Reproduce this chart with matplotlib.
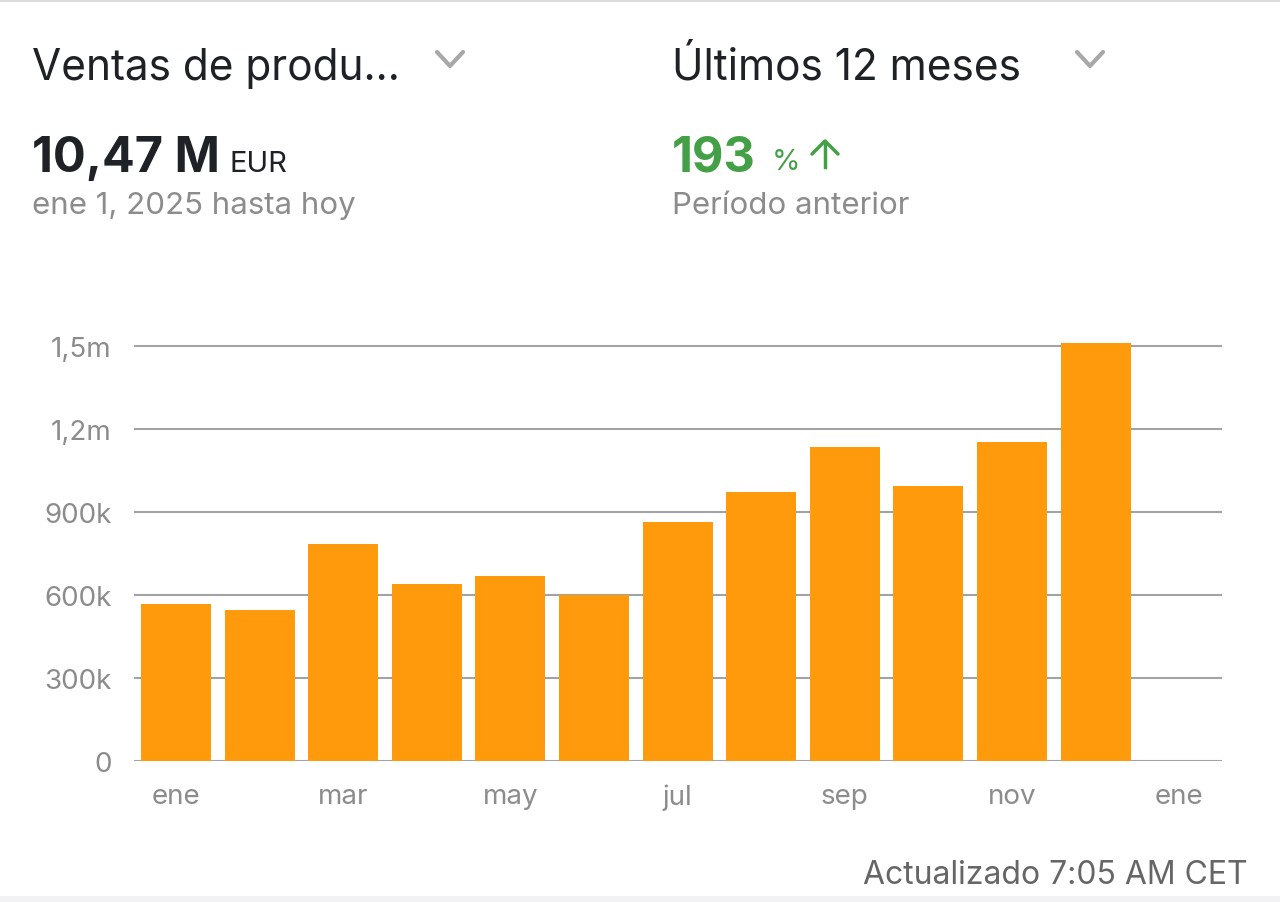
import numpy as np
import matplotlib
matplotlib.use('Agg')
from matplotlib import pyplot as plt
from matplotlib.lines import Line2D
from matplotlib.patches import Rectangle

# ---------- data ----------
months = ['ene', 'feb', 'mar', 'abr', 'may', 'jun', 'jul', 'ago', 'sep', 'oct', 'nov', 'dic']
sales = [567e3, 546e3, 784e3, 640e3, 669e3, 600e3, 864e3, 972e3, 1135e3, 994e3, 1153e3, 1511e3]
xtick_labels = ['ene', 'mar', 'may', 'jul', 'sep', 'nov', 'ene']
yticks = [0, 300e3, 600e3, 900e3, 1200e3, 1500e3]
ytick_labels = ['0', '300k', '600k', '900k', '1,2m', '1,5m']

# ---------- style ----------
plt.rcParams['font.family'] = ['Inter', 'DejaVu Sans']
W, H = 1280, 903
orange = '#ff9a0c'
dark = '#1e2226'
gray = '#8c8c8c'
green = '#43a047'
grid_c = '#a3a3a3'

fig = plt.figure(figsize=(W / 100, H / 100), dpi=100)
fig.patch.set_facecolor('white')

def px(x, y):
    return x / W, 1 - y / H

def txt(x, y, s, **kw):
    fx, fy = px(x, y)
    fig.text(fx, fy, s, va='baseline', **kw)

# top border and bottom band
fig.add_artist(Line2D([0, 1], [1 - 2 / H] * 2, color='#dcdcdc', lw=1.5))
fig.add_artist(Rectangle((0, 0), 1, 6 / H, color='#f2f2f4', lw=0))

# header
txt(32, 80, 'Ventas de produ...', fontsize=30.5, color=dark)
txt(672, 80, 'Últimos 12 meses', fontsize=30.5, color=dark)
for cx in (450, 1090):
    xs = [cx - 13, cx, cx + 13]
    ys = [53, 67, 53]
    fig.add_artist(Line2D([x / W for x in xs], [1 - y / H for y in ys],
                          color='#a8a8a8', lw=3, solid_capstyle='round'))

txt(32, 172, '10,47 M', fontsize=35, color=dark, fontweight='bold')
txt(230, 172, 'EUR', fontsize=21, color=dark)
txt(32, 214, 'ene 1, 2025 hasta hoy', fontsize=22.5, color=gray)

txt(672, 172, '193', fontsize=35, color=green, fontweight='bold')
txt(772, 170, '%', fontsize=21, color=green)
fig.add_artist(Line2D([825 / W, 825 / W], [1 - 168 / H, 1 - 143 / H], color=green, lw=2.5))
fig.add_artist(Line2D([812 / W, 825 / W, 838 / W], [1 - 155 / H, 1 - 142 / H, 1 - 155 / H],
                      color=green, lw=2.5, solid_capstyle='round'))
txt(672, 214, 'Período anterior', fontsize=22.5, color=gray)

txt(1248, 884, 'Actualizado 7:05 AM CET', fontsize=23, color='#666666', ha='right')

# ---------- chart ----------
ax_l, ax_r, ax_t, ax_b = 134, 1222, 330, 762
ax = fig.add_axes([ax_l / W, 1 - ax_b / H, (ax_r - ax_l) / W, (ax_b - ax_t) / H])
step = 83.6
x = np.arange(len(sales))
ax.bar(x, sales, width=70 / step, color=orange, zorder=3)
ax.set_xlim((ax_l - 176) / step, (ax_r - 176) / step)
ax.set_ylim(0, (ax_b - ax_t) * 300e3 / 83)

ax.set_yticks(yticks)
ax.set_yticklabels(ytick_labels)
ax.set_xticks(np.arange(0, 13, 2))
ax.set_xticklabels(xtick_labels)
ax.tick_params(axis='both', length=0, labelsize=20, colors=gray)
ax.tick_params(axis='y', pad=16)
ax.tick_params(axis='x', pad=16)
ax.yaxis.grid(True, color=grid_c, lw=1.5, zorder=1)
ax.set_axisbelow(True)
for s in ax.spines.values():
    s.set_visible(False)
ax.set_facecolor('none')

fig.savefig('out.png', dpi=100, facecolor='white')
